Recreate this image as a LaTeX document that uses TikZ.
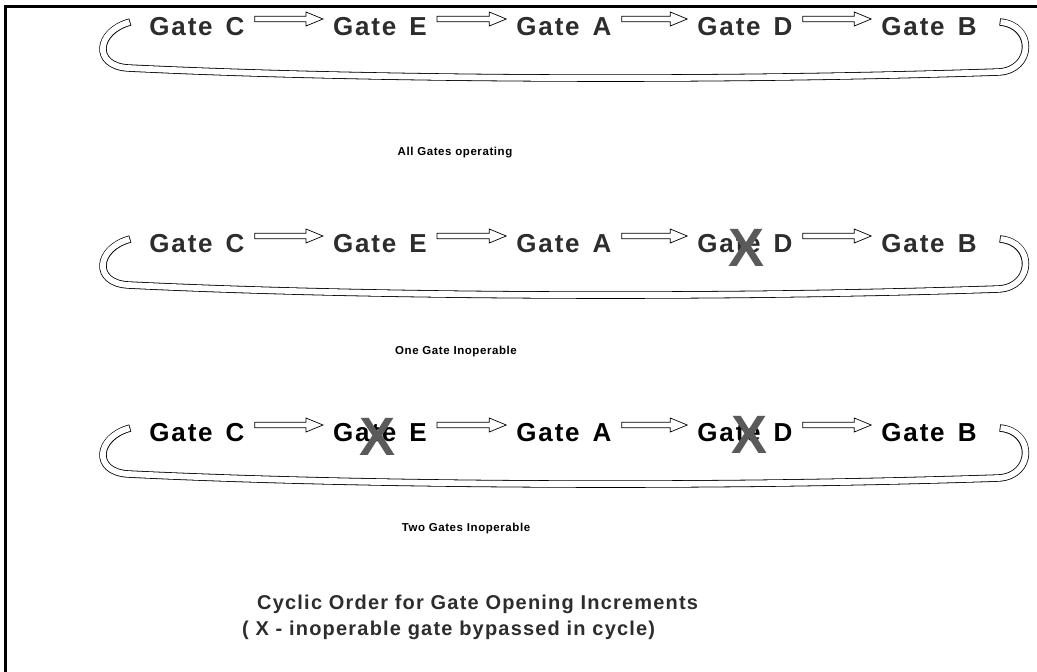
\documentclass[tikz,border=0pt]{standalone}
\usepackage{fontspec}
\setmainfont{Liberation Sans}
\newfontfamily\gatefont[LetterSpace=7]{Liberation Sans}
\newfontfamily\capfont[LetterSpace=5]{Liberation Sans}
\newfontfamily\titlefont[LetterSpace=6]{Liberation Sans}
\newfontfamily\xfont{Liberation Sans}
\usetikzlibrary{calc}
\definecolor{gatecol}{RGB}{45,45,45}
\definecolor{xgray}{RGB}{90,90,90}
\tikzset{
  gate/.style={font=\gatefont\bfseries\fontsize{26}{26}\selectfont, text=gatecol, inner sep=0pt},
  gateb/.style={gate, text=black},
  arrowline/.style={draw=black, line width=0.7pt, fill=white, line join=miter},
  loopline/.style={draw=black, line width=7.4pt, line cap=butt,
    postaction={draw=white, line width=5.8pt, line cap=butt, shorten <=0.8pt, shorten >=0.8pt}},
  caption/.style={font=\capfont\bfseries\fontsize{11.5}{11.5}\selectfont, inner sep=0pt},
  title/.style={font=\titlefont\bfseries\fontsize{20}{20}\selectfont, text=gatecol, inner sep=0pt, anchor=west},
  xmark/.style={font=\xfont\bfseries\fontsize{54}{54}\selectfont, text=xgray, inner sep=0pt}
}
\newcommand\gsp{\hspace{4pt}}
\newcommand\blockarrow[2]{%
  \draw[arrowline] let \p1=(#1), \p2=(#2) in
    (\x1,\y1-2.8pt) -- (\x2-17pt,\y1-2.8pt) -- (\x2-17pt,\y1-7pt) -- (\x2,\y1)
    -- (\x2-17pt,\y1+7pt) -- (\x2-17pt,\y1+2.8pt) -- (\x1,\y1+2.8pt) -- cycle;}
\newcommand\gaterow[3]{% #1 prefix, #2 y, #3 style
  \node[#3] (#1c) at (197,#2) {Gate\gsp{} C};
  \node[#3] (#1e) at (380,#2) {Gate\gsp{} E};
  \node[#3] (#1a) at (564,#2) {Gate\gsp{} A};
  \node[#3] (#1d) at (745,#2) {Gate\gsp{} D};
  \node[#3] (#1b) at (929,#2) {Gate\gsp{} B};
  \coordinate (#1a1s) at ($(#1c.east)+(10,-8)$);
  \coordinate (#1a1e) at ($(#1e.west)+(-10,-8)$);
  \coordinate (#1a2s) at ($(#1e.east)+(10,-8)$);
  \coordinate (#1a2e) at ($(#1a.west)+(-10,-8)$);
  \coordinate (#1a3s) at ($(#1a.east)+(10,-8)$);
  \coordinate (#1a3e) at ($(#1d.west)+(-10,-8)$);
  \coordinate (#1a4s) at ($(#1d.east)+(10,-8)$);
  \coordinate (#1a4e) at ($(#1b.west)+(-10,-8)$);
  \blockarrow{#1a1s}{#1a1e}
  \blockarrow{#1a2s}{#1a2e}
  \blockarrow{#1a3s}{#1a3e}
  \blockarrow{#1a4s}{#1a4e}
  \coordinate (#1R) at ($(#1b.east)+(23,-5)$);
  \coordinate (#1L) at ($(#1c.west)+(-19,-5)$);
  \coordinate (#1BR) at ($(#1R)+(-1,50)$);
  \coordinate (#1BL) at ($(#1L)+(-2,46)$);
  \draw[loopline] (#1R) .. controls +(35,3) and +(35,-2) .. (#1BR)
     .. controls +(-300,10) and +(225,11) .. (#1BL)
     .. controls +(-36,-2) and +(-34,9) .. (#1L);
}
\begin{document}
\begin{tikzpicture}[x=1pt,y=-1pt]
\useasboundingbox (0,0) rectangle (1037,672);
\draw[line width=3pt, line join=miter] (1037,6) -- (5,6) -- (5,672);
\gaterow{p}{27}{gate}
\node[caption] (cap1) at (455,153) {All Gates operating};
\gaterow{q}{244}{gate}
\node[xmark] (xq) at (747,248) {X};
\node[caption] (cap2) at (456,352) {One Gate Inoperable};
\gaterow{r}{433}{gateb}
\node[xmark] (xr1) at (378,437) {X};
\node[xmark] (xr2) at (750,435) {X};
\node[caption] (cap3) at (466,529) {Two Gates Inoperable};
\node[title] (t1) at (257,604) {Cyclic Order for Gate Opening Increments};
\node[title] (t2) at (242,630) {( X - inoperable gate bypassed in cycle)};
\end{tikzpicture}
\end{document}
